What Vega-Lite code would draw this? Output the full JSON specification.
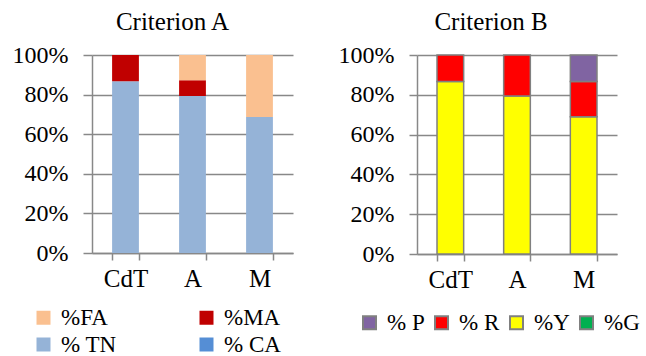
{
  "$schema": "https://vega.github.io/schema/vega-lite/v6.json",
  "background": "white",
  "padding": {"left": 12, "top": 10, "right": 0, "bottom": 0},
  "spacing": 45,
  "config": {
    "font": "Liberation Serif",
    "view": {"stroke": null},
    "title": {"font": "Liberation Serif", "fontSize": 25, "fontWeight": "normal", "color": "#000000"},
    "axis": {"labelFont": "Liberation Serif", "labelColor": "#000000", "domainColor": "#888888", "tickColor": "#888888", "gridColor": "#888888", "domainWidth": 1.5, "tickWidth": 1.5, "gridWidth": 1.5},
    "legend": {"labelFont": "Liberation Serif", "labelFontSize": 23, "labelColor": "#000000", "symbolType": "square", "symbolSize": 196, "labelOffset": 6}
  },
  "resolve": {"scale": {"color": "independent"}, "legend": {"color": "independent"}},
  "hconcat": [
    {
      "title": {"text": "Criterion A", "dx": -20, "offset": 8, "font": "Liberation Serif", "fontSize": 25, "fontWeight": "normal"},
      "width": 201,
      "height": 198,
      "data": {"values": [
        {"group": "CdT", "series": "% TN", "o": 1, "value": 0.867},
        {"group": "CdT", "series": "%MA", "o": 2, "value": 0.133},
        {"group": "A", "series": "% TN", "o": 1, "value": 0.793},
        {"group": "A", "series": "%MA", "o": 2, "value": 0.08},
        {"group": "A", "series": "%FA", "o": 3, "value": 0.127},
        {"group": "M", "series": "% TN", "o": 1, "value": 0.687},
        {"group": "M", "series": "%FA", "o": 3, "value": 0.313}
      ]},
      "mark": {"type": "bar"},
      "encoding": {
        "x": {"field": "group", "type": "nominal", "sort": ["CdT", "A", "M"],
          "scale": {"paddingInner": 0.6, "paddingOuter": 0.3},
          "axis": {"title": null, "labelAngle": 0, "tickBand": "extent", "tickSize": 7, "labelFont": "Liberation Serif", "labelFontSize": 25, "labelPadding": 6, "grid": false}},
        "y": {"field": "value", "type": "quantitative", "stack": "zero",
          "scale": {"domain": [0, 1]},
          "axis": {"title": null, "format": ".0%", "values": [0, 0.2, 0.4, 0.6, 0.8, 1], "grid": true, "tickSize": 9, "labelPadding": 15, "labelFont": "Liberation Serif", "labelFontSize": 24}},
        "color": {"field": "series", "type": "nominal",
          "scale": {"domain": ["%FA", "%MA", "% TN", "% CA"], "range": ["#FAC090", "#C00000", "#95B3D7", "#558ED5"]},
          "legend": {"title": null, "orient": "none", "legendX": -60, "legendY": 251, "direction": "horizontal", "columns": 2, "columnPadding": 78, "rowPadding": 3, "labelFont": "Liberation Serif"}},
        "order": {"field": "o", "type": "quantitative"}
      }
    },
    {
      "title": {"text": "Criterion B", "dx": -26, "offset": 8, "font": "Liberation Serif", "fontSize": 25, "fontWeight": "normal"},
      "width": 200,
      "height": 199,
      "data": {"values": [
        {"group": "CdT", "series": "%Y", "o": 1, "value": 0.867},
        {"group": "CdT", "series": "% R", "o": 2, "value": 0.133},
        {"group": "A", "series": "%Y", "o": 1, "value": 0.794},
        {"group": "A", "series": "% R", "o": 2, "value": 0.206},
        {"group": "M", "series": "%Y", "o": 1, "value": 0.69},
        {"group": "M", "series": "% R", "o": 2, "value": 0.177},
        {"group": "M", "series": "% P", "o": 3, "value": 0.133}
      ]},
      "mark": {"type": "bar", "stroke": "#808080", "strokeWidth": 1.5},
      "encoding": {
        "x": {"field": "group", "type": "nominal", "sort": ["CdT", "A", "M"],
          "scale": {"paddingInner": 0.6, "paddingOuter": 0.3},
          "axis": {"title": null, "labelAngle": 0, "tickBand": "extent", "tickSize": 7, "labelFont": "Liberation Serif", "labelFontSize": 25, "labelPadding": 6, "grid": false}},
        "y": {"field": "value", "type": "quantitative", "stack": "zero",
          "scale": {"domain": [0, 1]},
          "axis": {"title": null, "format": ".0%", "values": [0, 0.2, 0.4, 0.6, 0.8, 1], "grid": true, "tickSize": 8, "labelPadding": 15, "labelFont": "Liberation Serif", "labelFontSize": 24}},
        "color": {"field": "series", "type": "nominal",
          "scale": {"domain": ["% P", "% R", "%Y", "%G"], "range": ["#8064A2", "#FF0000", "#FFFF00", "#00B050"]},
          "legend": {"title": null, "orient": "none", "legendX": -59, "legendY": 256, "direction": "horizontal", "columns": 4, "columnPadding": 5, "symbolSize": 169, "symbolStrokeColor": "#808080", "symbolStrokeWidth": 2, "labelFont": "Liberation Serif"}},
        "order": {"field": "o", "type": "quantitative"}
      }
    }
  ]
}
